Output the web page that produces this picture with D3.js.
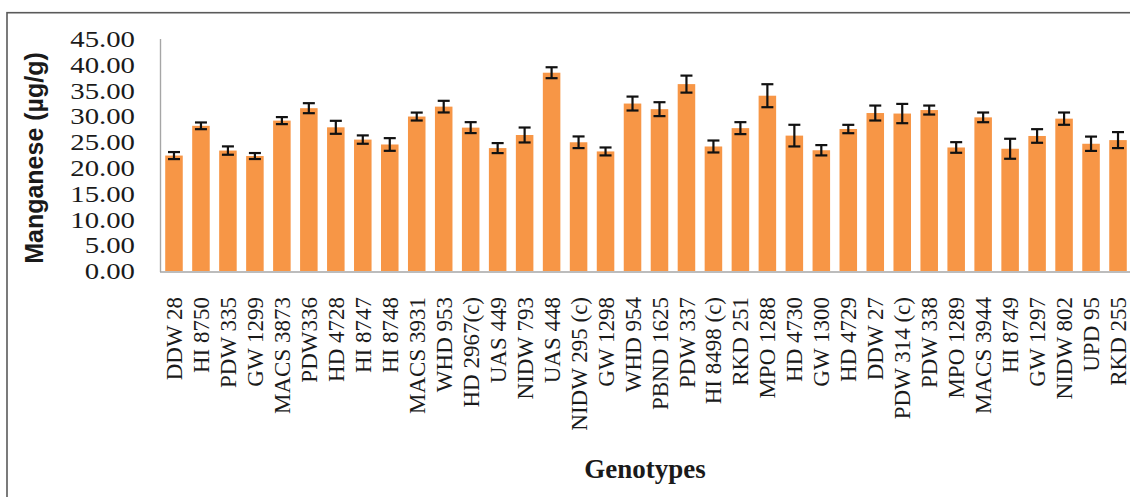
<!DOCTYPE html>
<html>
<head>
<meta charset="utf-8">
<script src="https://cdn.jsdelivr.net/npm/d3@7"></script>
<style>
  html, body { margin: 0; padding: 0; background: #ffffff; }
  svg { display: block; }
</style>
</head>
<body>
<svg id="chart" width="1130" height="497"></svg>
<script>
// Manganese content of wheat genotypes (mean ± SE)
const genotypes = [
  "DDW 28", "HI 8750", "PDW 335", "GW 1299", "MACS 3873", "PDW336",
  "HD 4728", "HI 8747", "HI 8748", "MACS 3931", "WHD 953", "HD 2967(c)",
  "UAS 449", "NIDW 793", "UAS 448", "NIDW 295 (c)", "GW 1298", "WHD 954",
  "PBND 1625", "PDW 337", "HI 8498 (c)", "RKD 251", "MPO 1288", "HD 4730",
  "GW 1300", "HD 4729", "DDW 27", "PDW 314 (c)", "PDW 338", "MPO 1289",
  "MACS 3944", "HI 8749", "GW 1297", "NIDW 802", "UPD 95", "RKD 255"
];
const manganese = [
  22.39, 28.16, 23.36, 22.30, 29.17, 31.58,
  27.87, 25.49, 24.54, 29.96, 31.88, 27.81,
  23.84, 26.38, 38.46, 24.97, 23.19, 32.48,
  31.39, 36.25, 24.15, 27.71, 34.00, 26.26,
  23.42, 27.54, 30.64, 30.54, 31.22, 23.96,
  29.80, 23.71, 26.19, 29.55, 24.68, 25.39
];
const stdError = [
  0.68, 0.65, 0.81, 0.58, 0.68, 0.97,
  1.26, 0.81, 1.23, 0.77, 1.13, 1.06,
  0.97, 1.45, 1.06, 1.13, 0.77, 1.35,
  1.35, 1.65, 1.16, 1.16, 2.23, 2.10,
  1.00, 0.81, 1.45, 1.87, 0.87, 1.03,
  0.94, 1.94, 1.32, 1.19, 1.39, 1.55
];
const yTicks = [0, 5, 10, 15, 20, 25, 30, 35, 40, 45];

const rows = genotypes.map((g, i) => ({ name: g, value: manganese[i], se: stdError[i] }));

const svg = d3.select("#chart");

// outer frame
svg.append("rect")
  .attr("x", 7).attr("y", 12.7)
  .attr("width", 1300).attr("height", 700)
  .attr("fill", "none")
  .attr("stroke", "#5a5a5a")
  .attr("stroke-width", 1.6);

const x = d3.scaleBand()
  .domain(genotypes)
  .range([160.5, 1131.5])
  .paddingInner(0.35)
  .paddingOuter(0.175);

const y = d3.scaleLinear()
  .domain([0, 45])
  .range([271, 39]);

// bars
svg.append("g")
  .selectAll("rect")
  .data(rows)
  .join("rect")
  .attr("x", d => x(d.name))
  .attr("y", d => y(d.value))
  .attr("width", x.bandwidth())
  .attr("height", d => y(0) - y(d.value))
  .attr("fill", "#F79646");

// error bars
const capHalf = 6;
const err = svg.append("g")
  .attr("stroke", "#111111")
  .attr("stroke-width", 2.2)
  .selectAll("g")
  .data(rows)
  .join("g")
  .attr("transform", d => `translate(${x(d.name) + x.bandwidth() / 2},0)`);
err.append("line")
  .attr("x1", 0).attr("x2", 0)
  .attr("y1", d => y(d.value + d.se))
  .attr("y2", d => y(d.value - d.se));
err.append("line")
  .attr("x1", -capHalf).attr("x2", capHalf)
  .attr("y1", d => y(d.value + d.se))
  .attr("y2", d => y(d.value + d.se));
err.append("line")
  .attr("x1", -capHalf).attr("x2", capHalf)
  .attr("y1", d => y(d.value - d.se))
  .attr("y2", d => y(d.value - d.se));

// y axis
const sx = 1.28;
const yAxis = svg.append("g")
  .attr("transform", "translate(160,0)")
  .call(d3.axisLeft(y).tickValues(yTicks).tickSize(0).tickPadding(25).tickFormat(d3.format(".2f")));
yAxis.select(".domain")
  .attr("stroke", "#a6a6a6")
  .attr("stroke-width", 1.4)
  .attr("d", `M0.5,${y(45)}V${y(0) + 1}`);
yAxis.selectAll("text")
  .attr("font-family", "'Liberation Serif', 'Times New Roman', serif")
  .attr("font-size", 22.5)
  .attr("fill", "#1a1a1a")
  .attr("x", -25 / sx)
  .attr("dy", "0.34em")
  .attr("transform", `scale(${sx},1)`);

// x axis
const xAxis = svg.append("g")
  .attr("transform", `translate(0,${y(0) + 1})`)
  .call(d3.axisBottom(x).tickSize(0).tickFormat(() => ""));
xAxis.select(".domain")
  .attr("stroke", "#a6a6a6")
  .attr("stroke-width", 1.4)
  .attr("d", `M160,0H1131`);

// category labels, rotated
svg.append("g")
  .selectAll("text")
  .data(genotypes)
  .join("text")
  .attr("transform", d => `translate(${x(d) + x.bandwidth() / 2},297) rotate(-90)`)
  .attr("text-anchor", "end")
  .attr("dy", "0.35em")
  .attr("font-family", "'Liberation Serif', 'Times New Roman', serif")
  .attr("font-size", 23)
  .attr("fill", "#1a1a1a")
  .text(d => d);

// axis titles
svg.append("text")
  .attr("transform", "translate(43,158) rotate(-90)")
  .attr("text-anchor", "middle")
  .attr("font-family", "'Liberation Sans', Arial, sans-serif")
  .attr("font-weight", "bold")
  .attr("font-size", 25)
  .attr("fill", "#1a1a1a")
  .text("Manganese (µg/g)");

svg.append("text")
  .attr("x", 645)
  .attr("y", 478)
  .attr("text-anchor", "middle")
  .attr("font-family", "'Liberation Serif', 'Times New Roman', serif")
  .attr("font-weight", "bold")
  .attr("font-size", 27)
  .attr("fill", "#1a1a1a")
  .text("Genotypes");
</script>
</body>
</html>
